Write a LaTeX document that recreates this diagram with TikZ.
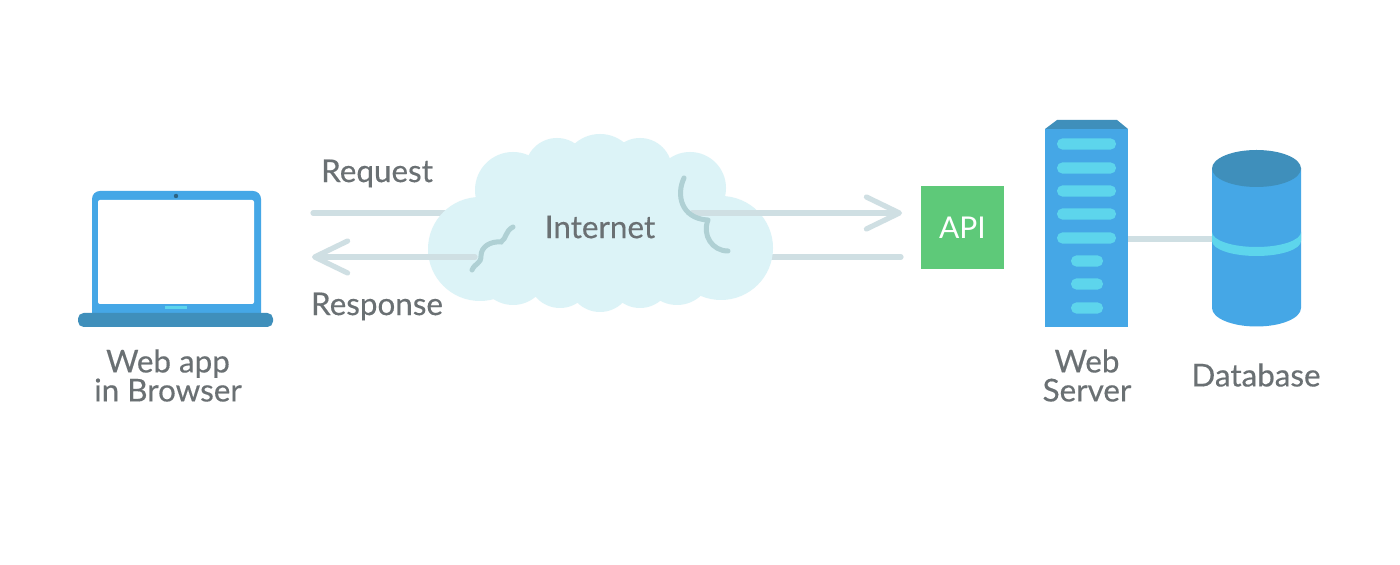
\documentclass[tikz,border=0pt]{standalone}
\usepackage{fontspec}
\setmainfont{Lato}
\newfontfamily\labelfont{Lato}[FakeBold=0.35]
\usetikzlibrary{arrows.meta}
\definecolor{lineC}{HTML}{CFDFE3}
\definecolor{cloudC}{HTML}{DCF3F7}
\definecolor{squigC}{HTML}{AFD0D4}
\definecolor{blueC}{HTML}{45A7E6}
\definecolor{darkC}{HTML}{3F8FBB}
\definecolor{lightC}{HTML}{5DD5EC}
\definecolor{greenC}{HTML}{5EC979}
\definecolor{textC}{HTML}{6A7073}
\tikzset{
  label text/.style={text=textC,font=\labelfont\fontsize{15.7}{14.5}\selectfont,align=center,inner sep=0pt},
  wire/.style={draw=lineC,line width=2.6pt,line cap=round},
  wire head/.style={wire,-{Straight Barb[length=16.5pt,width=16pt,line width=2.6pt,round]}},
  squiggle/.style={draw=squigC,line width=2.5pt,line cap=round},
  cloud lobe/.style={fill=cloudC,draw=none},
  long bar/.style={fill=lightC,rounded corners=2.7pt,minimum width=29.5pt,minimum height=5.6pt,inner sep=0pt},
  short bar/.style={fill=lightC,rounded corners=2.7pt,minimum width=16pt,minimum height=5.6pt,inner sep=0pt},
}
\begin{document}
\begin{tikzpicture}[x=0.5pt,y=-0.5pt]
\useasboundingbox[fill=white] (0,0) rectangle (1400,565);

% laptop
\fill[blueC,rounded corners=4pt] (92,191) rectangle (261,325);
\fill[white,rounded corners=1pt] (98,200) rectangle (254,304);
\fill[lightC] (165,306) rectangle (187,309);
\fill[darkC!70!black] (176,196) circle[radius=2.2];
\node[fill=darkC,rounded corners=2.8pt,minimum width=97.5pt,minimum height=7pt,inner sep=0pt] (laptop) at (175.5,320) {};
\node[label text] (browser) at (168,375.5) {Web app\\in Browser};

% connectors behind the cloud
\coordinate (reqStart) at (313,213);
\coordinate (reqEnd) at (902,213);
\coordinate (respStart) at (901,257);
\coordinate (respEnd) at (312,257);
\coordinate (reqOut) at (692,213);
\coordinate (respIn) at (475,257);
\coordinate (reqIn) at (500,213);
\coordinate (respOut) at (700,257);
\draw[wire] (reqStart) -- (reqIn);
\draw[wire] (respStart) -- (respOut);

% cloud
\foreach \cx/\cy/\r in {480/249/52, 721/248/52, 513/190/38, 557/170/32, 600/172/38, 640/170/32, 690/188/36,
  513/270/35, 560/276/32, 600/280/32, 640/276/32, 677/270/35, 600/225/60, 540/225/55, 660/225/55}{
  \fill[cloud lobe] (\cx,\cy) circle[radius=\r];
}
\node[label text] (internet) at (600,227) {Internet};

% connectors above the cloud
\draw[wire head] (reqOut) -- (reqEnd);
\draw[wire head] (respIn) -- (respEnd);

% squiggles
\draw[squiggle] (472,270) .. controls (475,263) and (481,264) .. (481,256)
  .. controls (481,247) and (490,241) .. (501,242)
  .. controls (507,238) and (505,231) .. (513,227);
\draw[squiggle] (684,178) .. controls (676,195) and (681,218) .. (707,220);
\draw[squiggle] (708,220) .. controls (702,235) and (712,251) .. (728,251);

% api
\node[fill=greenC,minimum width=41.5pt,minimum height=41.5pt,inner sep=0pt,text=white,font=\fontsize{15}{18}\selectfont] (api) at (962.5,227.5) {API};

% labels
\node[label text] (request) at (377,173.5) {Request};
\node[label text] (response) at (377,306.5) {Response};

% server to database connector
\coordinate (dbWest) at (1212,239);
\coordinate (srvEast) at (1128,239);
\draw[draw=lineC,line width=2.6pt] (srvEast) -- (dbWest);

% server
\node[fill=blueC,minimum width=41.5pt,minimum height=99pt,inner sep=0pt] (server) at (1086.5,228) {};
\fill[darkC] (1045,129) -- (1057,120) -- (1117,120) -- (1128,129) -- cycle;
\foreach \n/\y in {a/144,b/168,c/191,d/214,e/238}{\node[long bar] (bar\n) at (1086.5,\y) {};}
\foreach \n/\y in {f/261,g/284,h/308}{\node[short bar] (bar\n) at (1087,\y) {};}
\node[label text] (serverlabel) at (1087,375.5) {Web\\Server};

% database
\fill[blueC] (1212,168) -- (1212,308) arc[start angle=180,end angle=360,x radius=44.5,y radius=-18.5] -- (1301,168) -- cycle;
\fill[lightC] (1212,232) arc[start angle=180,end angle=360,x radius=44.5,y radius=-15] -- (1301,241) arc[start angle=0,end angle=180,x radius=44.5,y radius=15] -- cycle;
\fill[darkC] (1256.5,168.5) ellipse[x radius=44.5,y radius=18.5];
\node[label text] (database) at (1256,375) {Database};
\end{tikzpicture}
\end{document}
